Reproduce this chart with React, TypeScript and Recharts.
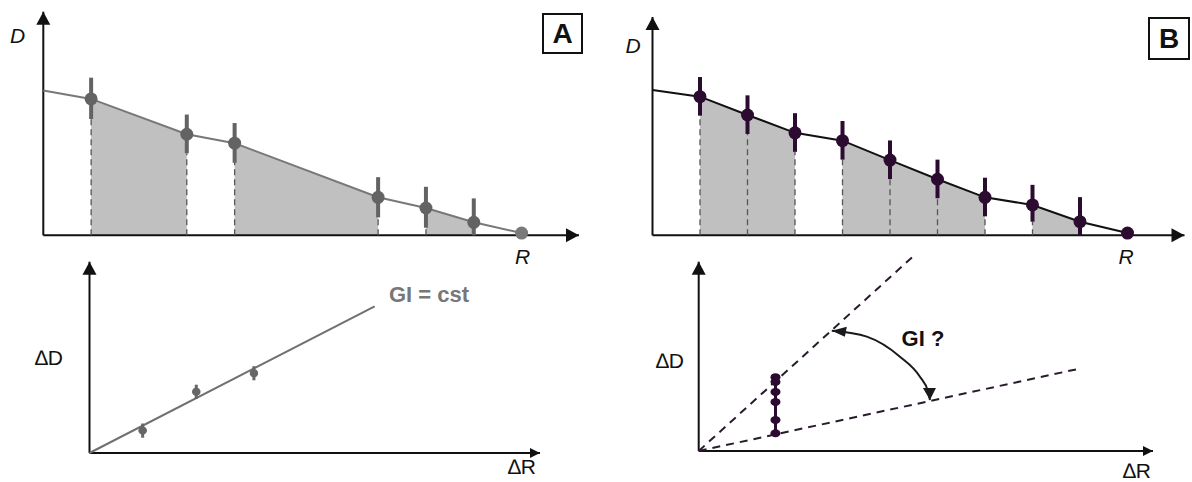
import React from "react";
import {
  ComposedChart, Line, Area, Scatter, XAxis, YAxis,
  ReferenceLine, ReferenceDot, ErrorBar
} from "recharts";

const FONT = "'Liberation Sans', Arial, sans-serif";

// Panel A (top): D(R) profile, some intervals missing
const rA = [0, 1, 3, 4, 7, 8, 9, 10];
const dA = [6.48, 6.1, 4.52, 4.12, 1.7, 1.22, 0.58, 0.1];
const errLoA = [0, 0.9, 0.85, 0.88, 0.9, 0.88, 0.58, 0];
const errHiA = [0, 0.95, 0.88, 0.9, 0.9, 0.95, 1.07, 0];
const shadeA = [[1, 2], [3, 4], [5, 6]];

// Panel B (top): regular sampling
const rB = [0, 1, 2, 3, 4, 5, 6, 7, 8, 9, 10];
const dB = [6.51, 6.21, 5.39, 4.59, 4.24, 3.37, 2.51, 1.7, 1.36, 0.61, 0.1];
const errLoB = [0, 0.85, 0.85, 0.85, 0.85, 0.85, 0.85, 0.85, 0.75, 0.61, 0];
const errHiB = [0, 0.88, 0.88, 0.88, 0.88, 0.88, 0.88, 0.88, 0.9, 1.1, 0];
const shadeB = [[1, 3], [4, 7], [8, 9]];

// Panel A (bottom): dD vs dR, GI = cst
const fitR = [0, 6.33];
const fitD = [0, 7.67];
const ptR = [1.18, 2.37, 3.65];
const ptD = [1.17, 3.2, 4.17];
const ptErrD = [0.37, 0.37, 0.37];
const ptErrR = [0.09, 0.09, 0.09];

// Panel B (bottom): GI ?
const upperR = [0, 4.75];
const upperD = [0, 10.35];
const lowerR = [0, 8.42];
const lowerD = [0, 4.37];
const clusterR = 1.69;
const clusterD = [3.9, 3.65, 3.12, 2.59, 1.64, 0.94];
const arcR = [2.93, 3.7, 4.43, 4.87, 5.05, 5.09];
const arcD = [6.35, 6.04, 4.98, 3.92, 3.13, 2.69];

const AXIS = "#111";

function buildRows(r: number[], d: number[], lo: number[], hi: number[], shade: number[][]) {
  return r.map((x, i) => {
    const row: any = { r: x, d: d[i], err: [lo[i], hi[i]], lo: lo[i] };
    shade.forEach((g, k) => {
      row[`s${k}`] = i >= g[0] && i <= g[1] ? d[i] : null;
    });
    return row;
  });
}

const upArrow = (w: number, h: number) => (p: any) => (
  <polygon points={`${p.cx},${p.cy} ${p.cx - w},${p.cy + h} ${p.cx + w},${p.cy + h}`} fill={AXIS} />
);
const rightArrow = (w: number, h: number) => (p: any) => (
  <polygon points={`${p.cx},${p.cy} ${p.cx - h},${p.cy - w} ${p.cx - h},${p.cy + w}`} fill={AXIS} />
);

// hidden axes give the scales, the visible axis lines are reference segments
function axes(xMax: number, yMax: number, xw: number, xh: number) {
  return [
    <XAxis key="x" type="number" dataKey="r" domain={[0, xMax]} hide />,
    <YAxis key="y" type="number" domain={[0, yMax]} hide />,
    <ReferenceLine key="lx" segment={[{ x: 0, y: 0 }, { x: xMax, y: 0 }]} stroke={AXIS} strokeWidth={2} ifOverflow="visible" />,
    <ReferenceLine key="ly" segment={[{ x: 0, y: 0 }, { x: 0, y: yMax }]} stroke={AXIS} strokeWidth={2} ifOverflow="visible" />,
  ];
}

function arrowDots(xMax: number, yMax: number, xw: number, xh: number) {
  return [
    <ReferenceDot key="ay" x={0} y={yMax} r={0} ifOverflow="visible" shape={upArrow(7, 13)} />,
    <ReferenceDot key="ax" x={xMax} y={0} r={0} ifOverflow="visible" shape={rightArrow(xw, xh)} />,
  ];
}

function ProfilePanel({ box, margin, xMax, yMax, r, d, lo, hi, shade, lineColor, lineWidth, dotColor, endColor }: any) {
  const rows = buildRows(r, d, lo, hi, shade);
  const measured = rows.slice(1, rows.length - 1);
  const last = [rows[rows.length - 1]];
  return (
    <div style={{ position: "absolute", left: box.left, top: box.top }}>
      <ComposedChart width={box.width} height={box.height} data={rows} margin={margin}>
        {axes(xMax, yMax, 7, 13)}
        {shade.map((g: number[], k: number) => (
          <Area key={k} dataKey={`s${k}`} type="linear" stroke="none" fill="#c0c0c0" fillOpacity={1}
            connectNulls={false} dot={false} activeDot={false} isAnimationActive={false} />
        ))}
        {measured.map((row: any) => (
          <ReferenceLine key={row.r} segment={[{ x: row.r, y: 0 }, { x: row.r, y: row.d - row.lo }]}
            stroke="#555" strokeWidth={1.3} strokeDasharray="6 4" ifOverflow="visible" />
        ))}
        <Line dataKey="d" type="linear" stroke={lineColor} strokeWidth={lineWidth} dot={false}
          activeDot={false} isAnimationActive={false} />
        <Scatter data={measured} dataKey="d" fill={dotColor} isAnimationActive={false}
          shape={(p: any) => <circle cx={p.cx} cy={p.cy} r={6.5} fill={dotColor} />}>
          <ErrorBar dataKey="err" direction="y" width={0} stroke={dotColor} strokeWidth={4} isAnimationActive={false} />
        </Scatter>
        <Scatter data={last} dataKey="d" fill={endColor} isAnimationActive={false}
          shape={(p: any) => <circle cx={p.cx} cy={p.cy} r={6.5} fill={endColor} />} />
        {arrowDots(xMax, yMax, 7, 13)}
      </ComposedChart>
    </div>
  );
}

function FitPanelA() {
  const fitRows = fitR.map((x, i) => ({ r: x, d: fitD[i] }));
  const pts = ptR.map((x, i) => ({ r: x, d: ptD[i], ey: ptErrD[i], ex: ptErrR[i] }));
  return (
    <div style={{ position: "absolute", left: 0, top: 250 }}>
      <ComposedChart width={600} height={232} margin={{ left: 89.5, top: 11.7, right: 60, bottom: 29 }}>
        {axes(10, 10, 5, 10)}
        <Line data={fitRows} dataKey="d" type="linear" stroke="#707070" strokeWidth={2} dot={false}
          activeDot={false} isAnimationActive={false} />
        <Scatter data={pts} dataKey="d" fill="#666" isAnimationActive={false}
          shape={(p: any) => <circle cx={p.cx} cy={p.cy} r={4} fill="#666" />}>
          <ErrorBar dataKey="ey" direction="y" width={0} stroke="#666" strokeWidth={3} isAnimationActive={false} />
          <ErrorBar dataKey="ex" direction="x" width={0} stroke="#666" strokeWidth={3} isAnimationActive={false} />
        </Scatter>
        {arrowDots(10, 10, 5, 10)}
      </ComposedChart>
    </div>
  );
}

function FitPanelB() {
  const cluster = clusterD.map((v) => ({ r: clusterR, d: v }));
  const arc = arcR.map((x, i) => ({ r: x, d: arcD[i] }));
  const first = arc[0];
  const end = arc[arc.length - 1];
  return (
    <div style={{ position: "absolute", left: 600, top: 250 }}>
      <ComposedChart width={592} height={232} margin={{ left: 98.7, top: 11.7, right: 39, bottom: 31 }}>
        {axes(10, 10, 5, 10)}
        <ReferenceLine segment={[{ x: upperR[0], y: upperD[0] }, { x: upperR[1], y: upperD[1] }]}
          stroke="#2a1a2d" strokeWidth={2} strokeDasharray="8 6" ifOverflow="visible" />
        <ReferenceLine segment={[{ x: lowerR[0], y: lowerD[0] }, { x: lowerR[1], y: lowerD[1] }]}
          stroke="#2a1a2d" strokeWidth={2} strokeDasharray="8 6" ifOverflow="visible" />
        <Line data={cluster} dataKey="d" type="linear" stroke="#2b0b2f" strokeWidth={3} dot={false}
          activeDot={false} isAnimationActive={false} />
        <Scatter data={cluster} dataKey="d" fill="#2b0b2f" isAnimationActive={false}
          shape={(p: any) => <ellipse cx={p.cx} cy={p.cy} rx={5} ry={4} fill="#2b0b2f" />} />
        <Line data={arc} dataKey="d" type="monotoneX" stroke="#1a1a1a" strokeWidth={2} dot={false}
          activeDot={false} isAnimationActive={false} />
        <ReferenceDot x={first.r} y={first.d} r={0} ifOverflow="visible"
          shape={(p: any) => (
            <polygon points={`${p.cx},${p.cy} ${p.cx + 15},${p.cy - 4} ${p.cx + 13},${p.cy + 6}`} fill="#1a1a1a" />
          )} />
        <ReferenceDot x={end.r} y={end.d} r={0} ifOverflow="visible"
          shape={(p: any) => (
            <polygon points={`${p.cx},${p.cy} ${p.cx - 7},${p.cy - 12} ${p.cx + 6},${p.cy - 12}`} fill="#1a1a1a" />
          )} />
        {arrowDots(10, 10, 5, 10)}
      </ComposedChart>
    </div>
  );
}

function Label({ x, y, children, size = 21, italic = false, bold = false, color = "#111" }: any) {
  return (
    <div style={{
      position: "absolute", left: x, top: y, transform: "translate(-50%, -50%)",
      fontSize: size, fontStyle: italic ? "italic" : "normal", fontWeight: bold ? 700 : 400,
      color, lineHeight: 1, whiteSpace: "nowrap", fontFamily: FONT,
    }}>{children}</div>
  );
}

function Box({ left, top, w, h, text }: any) {
  return (
    <div style={{
      position: "absolute", left, top, width: w, height: h, boxSizing: "border-box",
      border: "2px solid #111", display: "flex", alignItems: "center", justifyContent: "center",
      fontFamily: FONT, fontWeight: 700, fontSize: 28, color: "#111", lineHeight: 1,
    }}>{text}</div>
  );
}

export default function App() {
  return (
    <div style={{ position: "absolute", left: 0, top: 0, width: 1192, height: 482, background: "#fff", fontFamily: FONT }}>
      <ProfilePanel
        box={{ left: 0, top: 0, width: 600, height: 250 }}
        margin={{ left: 43.3, top: 11.7, right: 21, bottom: 14.7 }}
        xMax={11.2} yMax={10} r={rA} d={dA} lo={errLoA} hi={errHiA} shade={shadeA}
        lineColor="#787878" lineWidth={2} dotColor="#636363" endColor="#7a7a7a"
      />
      <ProfilePanel
        box={{ left: 600, top: 0, width: 592, height: 250 }}
        margin={{ left: 52.5, top: 17, right: 7.5, bottom: 14.7 }}
        xMax={11.2} yMax={9.78} r={rB} d={dB} lo={errLoB} hi={errHiB} shade={shadeB}
        lineColor="#111" lineWidth={2} dotColor="#2b0b2f" endColor="#2b0b2f"
      />
      <FitPanelA />
      <FitPanelB />

      <Label x={17.5} y={35} italic>D</Label>
      <Label x={522.5} y={256} italic>R</Label>
      <Box left={542} top={13} w={41} h={41} text="A" />
      <Label x={633} y={45} italic>D</Label>
      <Label x={1126} y={256} italic>R</Label>
      <Box left={1148} top={17} w={42} h={43} text="B" />

      <Label x={49} y={357}>∆D</Label>
      <Label x={522} y={466}>∆R</Label>
      <Label x={429} y={295} bold size={22} color="#777">GI = cst</Label>

      <Label x={670} y={360}>∆D</Label>
      <Label x={1137} y={470}>∆R</Label>
      <Label x={923} y={339} bold size={22}>GI ?</Label>
    </div>
  );
}
